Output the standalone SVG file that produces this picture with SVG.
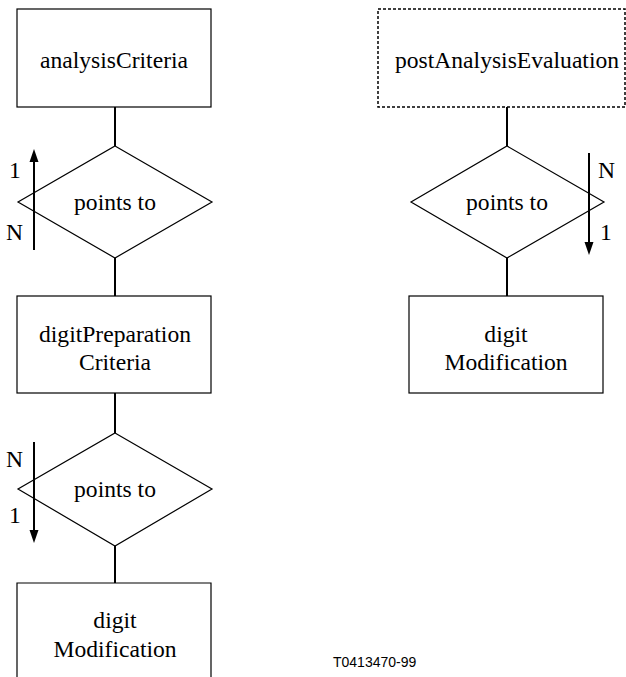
<svg xmlns="http://www.w3.org/2000/svg" width="626" height="677" viewBox="0 0 626 677">
<style>
.box{fill:#fff;stroke:#000;stroke-width:1.2}
.dash{fill:#fff;stroke:#000;stroke-width:1.5;stroke-dasharray:3 2}
.dia{fill:#fff;stroke:#000;stroke-width:1.2}
.ln{stroke:#000;stroke-width:2;fill:none}
.ah{fill:#000;stroke:none}
</style>
<g id="connectors">
<line class="ln" x1="115" y1="107" x2="115" y2="146"/>
<line class="ln" x1="115" y1="258" x2="115" y2="296"/>
<line class="ln" x1="115" y1="393" x2="115" y2="433"/>
<line class="ln" x1="115" y1="546" x2="115" y2="583"/>
<line class="ln" x1="507" y1="107" x2="507" y2="146"/>
<line class="ln" x1="507" y1="258" x2="507" y2="296"/>
</g>
<g font-family="Liberation Serif, Times New Roman, serif" font-size="23.6" fill="#000">
<g id="analysisCriteria">
<rect class="box" x="17" y="9" width="194" height="98"/>
<text x="114" y="68" text-anchor="middle">analysisCriteria</text>
</g>
<g id="rel1">
<polygon class="dia" points="115,146 212,202 115,258 18,202"/>
<text x="115" y="210" text-anchor="middle">points to</text>
<line class="ln" x1="34" y1="250" x2="34" y2="160"/>
<polygon class="ah" points="34,149 38.5,162 29.5,162"/>
<text x="9" y="178">1</text>
<text x="6" y="240">N</text>
</g>
<g id="digitPreparationCriteria">
<rect class="box" x="17" y="296" width="194" height="97"/>
<text x="115" y="342" text-anchor="middle">digitPreparation</text>
<text x="115" y="370" text-anchor="middle">Criteria</text>
</g>
<g id="rel2">
<polygon class="dia" points="115,433 212,489 115,546 18,489"/>
<text x="115" y="497" text-anchor="middle">points to</text>
<line class="ln" x1="34" y1="442" x2="34" y2="532"/>
<polygon class="ah" points="34,543 38.5,530 29.5,530"/>
<text x="6" y="467">N</text>
<text x="9" y="523">1</text>
</g>
<g id="digitModification1">
<path class="box" d="M17,680 L17,583 L211,583 L211,680"/>
<text x="115" y="628" text-anchor="middle">digit</text>
<text x="115" y="657" text-anchor="middle">Modification</text>
</g>
<g id="postAnalysisEvaluation">
<rect class="dash" x="378" y="9" width="247" height="98"/>
<text x="507" y="68" text-anchor="middle">postAnalysisEvaluation</text>
</g>
<g id="rel3">
<polygon class="dia" points="507,146 604,202 507,258 411,202"/>
<text x="507" y="210" text-anchor="middle">points to</text>
<line class="ln" x1="589" y1="153" x2="589" y2="244"/>
<polygon class="ah" points="589,255 593.5,242 584.5,242"/>
<text x="598" y="178">N</text>
<text x="600" y="240">1</text>
</g>
<g id="digitModification2">
<rect class="box" x="409" y="296" width="194" height="97"/>
<text x="506" y="342" text-anchor="middle">digit</text>
<text x="506" y="370" text-anchor="middle">Modification</text>
</g>
</g>
<text x="333" y="667" font-family="Liberation Sans, Arial, sans-serif" font-size="14" fill="#000">T0413470-99</text>
</svg>
